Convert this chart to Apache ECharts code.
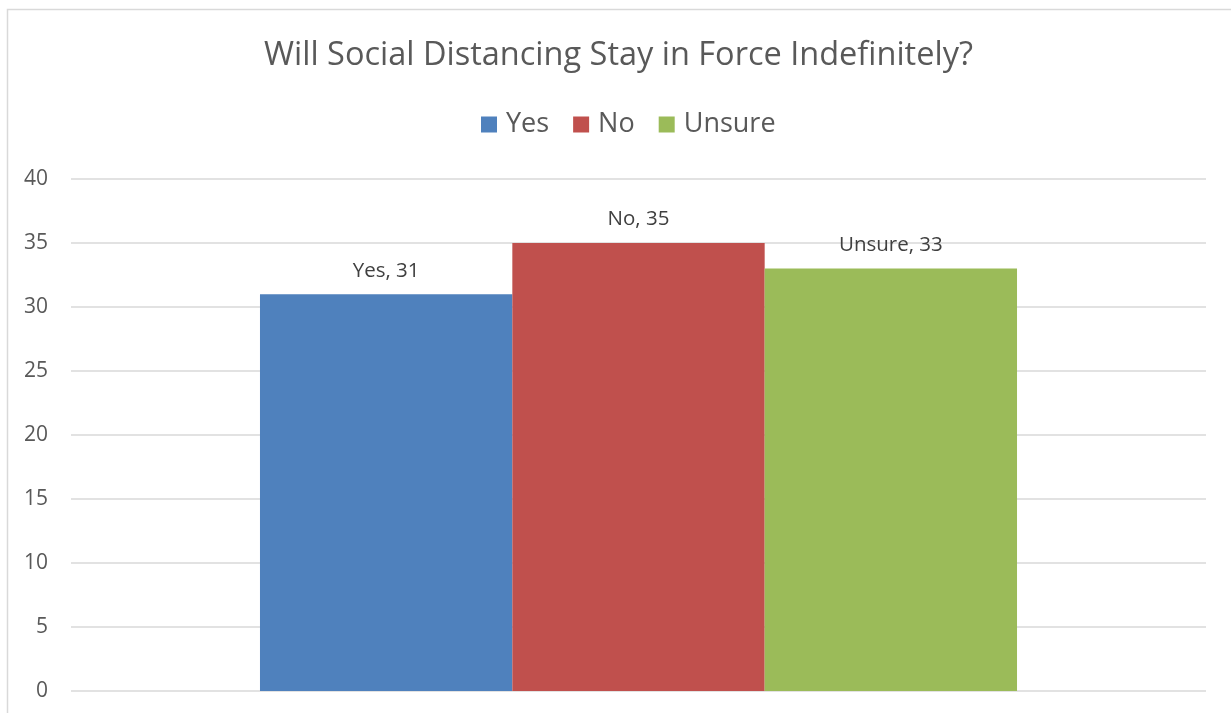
<!DOCTYPE html>
<html><head><meta charset="utf-8">
<script src="https://cdn.jsdelivr.net/npm/echarts@6/dist/echarts.min.js"></script>
<style>html,body{margin:0;padding:0;background:#fff}#c{width:1231px;height:713px}</style>
</head><body><div id="c"></div>
<script>
const categories = ['Responses'];
const seriesNames = ['Yes', 'No', 'Unsure'];
const yesValues = [31];
const noValues = [35];
const unsureValues = [33];
const yTicks = [0, 5, 10, 15, 20, 25, 30, 35, 40];
const colors = ['#4f81bd', '#c0504d', '#9bbb59'];
const values = [yesValues, noValues, unsureValues];
const FONT = '"Open Sans", sans-serif';
const chart = echarts.init(document.getElementById('c'));
chart.setOption({
  animation: false,
  graphic: [{type:'rect', shape:{x:7.5, y:9.5, width:1300, height:800}, style:{fill:'none', stroke:'#d9d9d9', lineWidth:1.5}, silent:true}],
  title: {text:'Will Social Distancing Stay in Force Indefinitely?', left:259, top:34,
    textStyle:{fontFamily:FONT, fontSize:32.5, fontWeight:'normal', color:'#595959'}},
  legend: {data:seriesNames, top:106, left:476, itemWidth:16, itemHeight:16, itemGap:24,
    icon:'rect', textStyle:{fontFamily:FONT, fontSize:27, color:'#595959', padding:[0,0,0,4]}},
  grid: {left:71, right:25, top:179, bottom:22},
  xAxis: {type:'category', data:categories, axisLine:{show:false}, axisTick:{show:false}, axisLabel:{show:false}},
  yAxis: {type:'value', min:yTicks[0], max:yTicks[yTicks.length-1], interval:5,
    axisLine:{show:false}, axisTick:{show:false},
    axisLabel:{fontFamily:FONT, fontSize:21, color:'#595959', margin:23},
    splitLine:{lineStyle:{color:'#d9d9d9', width:1.5}}},
  series: seriesNames.map((n,i)=>({
    name:n, type:'bar', data:values[i], barGap:'0%', barCategoryGap:'33.3%',
    itemStyle:{color:colors[i]},
    label:{show:true, position:'top', distance:13, formatter:p=>p.seriesName+', '+p.value,
      fontFamily:FONT, fontSize:20.5, color:'#404040'}
  }))
});
</script></body></html>
